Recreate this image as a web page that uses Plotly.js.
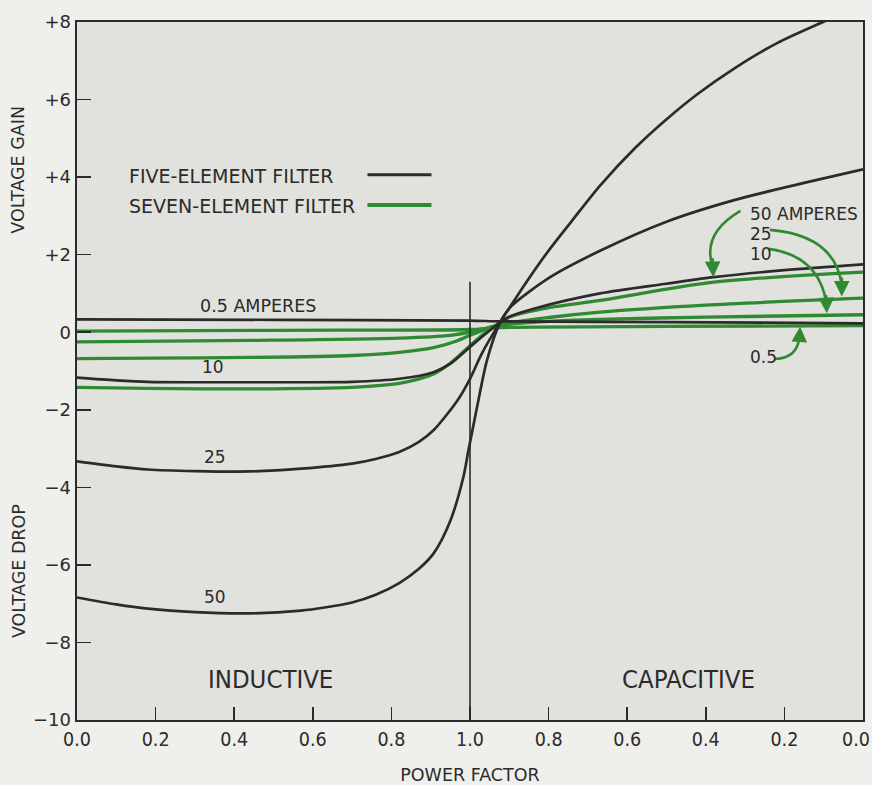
<!DOCTYPE html>
<html>
<head>
<meta charset="utf-8">
<script src="https://cdn.plot.ly/plotly-3.0.1.min.js"></script>
<style>
  html, body { margin: 0; padding: 0; background: #efefec; }
  #chart { width: 872px; height: 785px; }
</style>
</head>
<body>
<div id="chart"></div>
<script>
// ---- Tick labels ----
const xTickVals = [0, 0.2, 0.4, 0.6, 0.8, 1.0, 1.2, 1.4, 1.6, 1.8, 2.0];
const xTickText = ["0.0", "0.2", "0.4", "0.6", "0.8", "1.0", "0.8", "0.6", "0.4", "0.2", "0.0"];
const yTickVals = [8, 6, 4, 2, 0, -2, -4, -6, -8, -10];
const yTickText = ["+8", "+6", "+4", "+2", "0", "\u22122", "\u22124", "\u22126", "\u22128", "\u221210"];

// x is a continuous power-factor scale: 0..1 inductive, 1..2 capacitive (1.0 -> 0.0)
// ---- Five-element filter (black) ----
const five50_x = [0, 0.1, 0.18, 0.3, 0.44, 0.57, 0.63, 0.7, 0.76, 0.82, 0.87, 0.907, 0.95, 0.983, 0.996, 1.018, 1.043, 1.077, 1.1, 1.136, 1.196, 1.26, 1.331, 1.42, 1.501, 1.58, 1.672, 1.78, 1.898, 2.0];
const five50_y = [-6.84, -7.02, -7.13, -7.22, -7.25, -7.18, -7.1, -6.97, -6.77, -6.47, -6.1, -5.71, -4.86, -3.74, -3.05, -1.93, -0.73, 0.26, 0.62, 1.18, 2.05, 2.88, 3.78, 4.75, 5.5, 6.15, 6.8, 7.45, 8.0, 8.45];

const five25_x = [0, 0.1, 0.18, 0.3, 0.44, 0.57, 0.7, 0.76, 0.82, 0.87, 0.907, 0.968, 1.0, 1.03, 1.077, 1.102, 1.204, 1.331, 1.5, 1.67, 1.85, 2.0];
const five25_y = [-3.33, -3.46, -3.54, -3.58, -3.59, -3.52, -3.39, -3.27, -3.09, -2.83, -2.53, -1.76, -1.2, -0.55, 0.26, 0.64, 1.42, 2.10, 2.85, 3.40, 3.85, 4.20];

const five10_x = [0, 0.1, 0.18, 0.3, 0.44, 0.57, 0.7, 0.82, 0.907, 0.95, 1.0, 1.04, 1.077, 1.1, 1.16, 1.331, 1.5, 1.62, 1.8, 2.0];
const five10_y = [-1.17, -1.24, -1.28, -1.29, -1.29, -1.29, -1.28, -1.20, -1.03, -0.81, -0.38, -0.04, 0.26, 0.40, 0.60, 1.0, 1.25, 1.42, 1.60, 1.75];

const five05_x = [0, 0.5, 1.0, 1.077, 1.5, 2.0];
const five05_y = [0.33, 0.32, 0.30, 0.28, 0.26, 0.23];

// ---- Seven-element filter (green) ----
const seven50_x = [0, 0.18, 0.44, 0.7, 0.82, 0.907, 0.95, 1.0, 1.04, 1.077, 1.1, 1.204, 1.331, 1.62, 2.0];
const seven50_y = [-1.42, -1.45, -1.46, -1.42, -1.32, -1.08, -0.80, -0.35, 0.0, 0.22, 0.39, 0.64, 0.82, 1.29, 1.55];

const seven25_x = [0, 0.18, 0.44, 0.7, 0.82, 0.907, 0.968, 1.0, 1.04, 1.077, 1.2, 1.331, 1.6, 2.0];
const seven25_y = [-0.68, -0.67, -0.65, -0.60, -0.52, -0.40, -0.22, -0.08, 0.08, 0.20, 0.38, 0.52, 0.70, 0.88];

const seven10_x = [0, 0.44, 0.82, 0.95, 1.0, 1.04, 1.077, 1.2, 1.331, 1.6, 2.0];
const seven10_y = [-0.25, -0.21, -0.15, -0.08, 0.0, 0.10, 0.18, 0.28, 0.33, 0.39, 0.45];

const seven05_x = [0, 0.5, 1.0, 1.077, 1.5, 2.0];
const seven05_y = [0.03, 0.05, 0.07, 0.12, 0.15, 0.17];

// ---- styling ----
const INK = '#2b2b2b';
const GREEN = '#2f8a31';
const WIDE = '"DejaVu Sans", "Liberation Sans", sans-serif';
const COND = '"DejaVu Sans Condensed", "Liberation Sans Narrow", "DejaVu Sans", sans-serif';
const XTICK_SIZE = 19.5;

function blackTrace(x, y, name) {
  return { x: x, y: y, type: 'scatter', mode: 'lines', name: name, showlegend: false,
           line: { color: INK, width: 2.7, shape: 'spline', smoothing: 0.8 }, hoverinfo: 'skip' };
}
function greenTrace(x, y, name) {
  return { x: x, y: y, type: 'scatter', mode: 'lines', name: name, showlegend: false,
           line: { color: GREEN, width: 3.3, shape: 'spline', smoothing: 0.8 }, hoverinfo: 'skip' };
}

const data = [
  greenTrace(seven05_x, seven05_y, 'Seven-element 0.5 A'),
  greenTrace(seven10_x, seven10_y, 'Seven-element 10 A'),
  greenTrace(seven25_x, seven25_y, 'Seven-element 25 A'),
  greenTrace(seven50_x, seven50_y, 'Seven-element 50 A'),
  blackTrace(five05_x, five05_y, 'Five-element 0.5 A'),
  blackTrace(five10_x, five10_y, 'Five-element 10 A'),
  blackTrace(five25_x, five25_y, 'Five-element 25 A'),
  blackTrace(five50_x, five50_y, 'Five-element 50 A')
];

function label(text, x, y, size, anchor, family) {
  return { text: text, x: x, y: y, xref: 'x', yref: 'y', showarrow: false,
           xanchor: anchor || 'center', yanchor: 'middle',
           font: { family: family || WIDE, size: size, color: INK } };
}
function arrowHead(x, y, ax, ay) {
  return { text: '', x: x, y: y, ax: ax, ay: ay, xref: 'x', yref: 'y', axref: 'x', ayref: 'y',
           showarrow: true, arrowhead: 2, arrowsize: 1.2, arrowwidth: 2.6, arrowcolor: GREEN };
}

// the axis draws every tick label except the last, which would overflow the page edge;
// that one is placed as an annotation nudged inward (as in the original print)
const axisTickText = xTickText.slice(0, -1).concat(['']);

const annotations = [
  label('0.5 AMPERES', 0.46, 0.67, 17.5),
  label('10', 0.347, -0.90, 17),
  label('25', 0.351, -3.22, 17),
  label('50', 0.35, -6.83, 17),
  label('INDUCTIVE', 0.492, -8.93, 25.5, 'center', COND),
  label('CAPACITIVE', 1.556, -8.93, 25.5, 'center', COND),
  label('FIVE-ELEMENT FILTER', 0.127, 4.03, 19, 'left'),
  label('SEVEN-ELEMENT FILTER', 0.127, 3.26, 19, 'left'),
  label('50 AMPERES', 1.708, 3.05, 17, 'left'),
  label('25', 1.708, 2.54, 17, 'left'),
  label('10', 1.708, 2.02, 17, 'left'),
  label('0.5', 1.708, -0.64, 17, 'left'),
  arrowHead(1.619, 1.42, 1.617, 1.95),
  arrowHead(1.946, 0.92, 1.946, 1.45),
  arrowHead(1.908, 0.49, 1.906, 1.0),
  arrowHead(1.840, 0.15, 1.838, -0.25),
  { text: xTickText[xTickText.length - 1], x: xTickVals[xTickVals.length - 1], y: -10,
    xref: 'x', yref: 'y', showarrow: false, xanchor: 'center', yanchor: 'middle',
    xshift: -7, yshift: -19.5, font: { family: COND, size: XTICK_SIZE, color: INK } },
  { text: 'VOLTAGE GAIN', x: -0.0745, y: 0.789, xref: 'paper', yref: 'paper', showarrow: false,
    textangle: -90, xanchor: 'center', yanchor: 'middle', font: { family: WIDE, size: 17.5, color: INK } },
  { text: 'VOLTAGE DROP', x: -0.0745, y: 0.214, xref: 'paper', yref: 'paper', showarrow: false,
    textangle: -90, xanchor: 'center', yanchor: 'middle', font: { family: WIDE, size: 17.5, color: INK } }
];

const shapes = [
  // unity power-factor divider
  { type: 'line', xref: 'x', yref: 'y', x0: 1.0, x1: 1.0, y0: -10, y1: 1.3,
    line: { color: INK, width: 1.6 }, layer: 'above' },
  // legend samples
  { type: 'line', xref: 'x', yref: 'y', x0: 0.739, x1: 0.902, y0: 4.06, y1: 4.06,
    line: { color: INK, width: 3 } },
  { type: 'line', xref: 'x', yref: 'y', x0: 0.739, x1: 0.902, y0: 3.28, y1: 3.28,
    line: { color: GREEN, width: 4 } },
  // curved leader arrows
  { type: 'path', xref: 'x', yref: 'y', path: 'M 1.688,3.13 Q 1.59,2.55 1.617,1.7',
    line: { color: GREEN, width: 2.6 } },
  { type: 'path', xref: 'x', yref: 'y', path: 'M 1.763,2.64 Q 1.93,2.5 1.946,1.2',
    line: { color: GREEN, width: 2.6 } },
  { type: 'path', xref: 'x', yref: 'y', path: 'M 1.759,2.15 Q 1.885,1.98 1.906,0.8',
    line: { color: GREEN, width: 2.6 } },
  { type: 'path', xref: 'x', yref: 'y', path: 'M 1.776,-0.69 Q 1.835,-0.66 1.838,-0.1',
    line: { color: GREEN, width: 2.6 } }
];

const layout = {
  width: 872, height: 785,
  margin: { l: 77, r: 9, t: 22, b: 65, pad: 0 },
  paper_bgcolor: '#efefec',
  plot_bgcolor: '#e1e1de',
  font: { family: WIDE, color: INK },
  showlegend: false,
  xaxis: {
    range: [0, 2], tickmode: 'array', tickvals: xTickVals, ticktext: axisTickText,
    ticks: 'inside', ticklen: 13, tickwidth: 1.5, tickcolor: INK,
    showline: true, linecolor: INK, linewidth: 2.4, mirror: true,
    showgrid: false, zeroline: false, automargin: false,
    tickfont: { family: COND, size: XTICK_SIZE, color: INK },
    title: { text: 'POWER FACTOR', standoff: 22, font: { family: WIDE, size: 17.5, color: INK } }
  },
  yaxis: {
    range: [-10, 8], tickmode: 'array', tickvals: yTickVals, ticktext: yTickText,
    ticks: 'inside', ticklen: 14, tickwidth: 1.5, tickcolor: INK,
    showline: true, linecolor: INK, linewidth: 2.4, mirror: true,
    showgrid: false, zeroline: false, automargin: false,
    ticklabeloverflow: 'allow',
    tickfont: { family: WIDE, size: 18, color: INK }
  },
  annotations: annotations,
  shapes: shapes
};

Plotly.newPlot('chart', data, layout, { staticPlot: true, displayModeBar: false });
</script>
</body>
</html>
